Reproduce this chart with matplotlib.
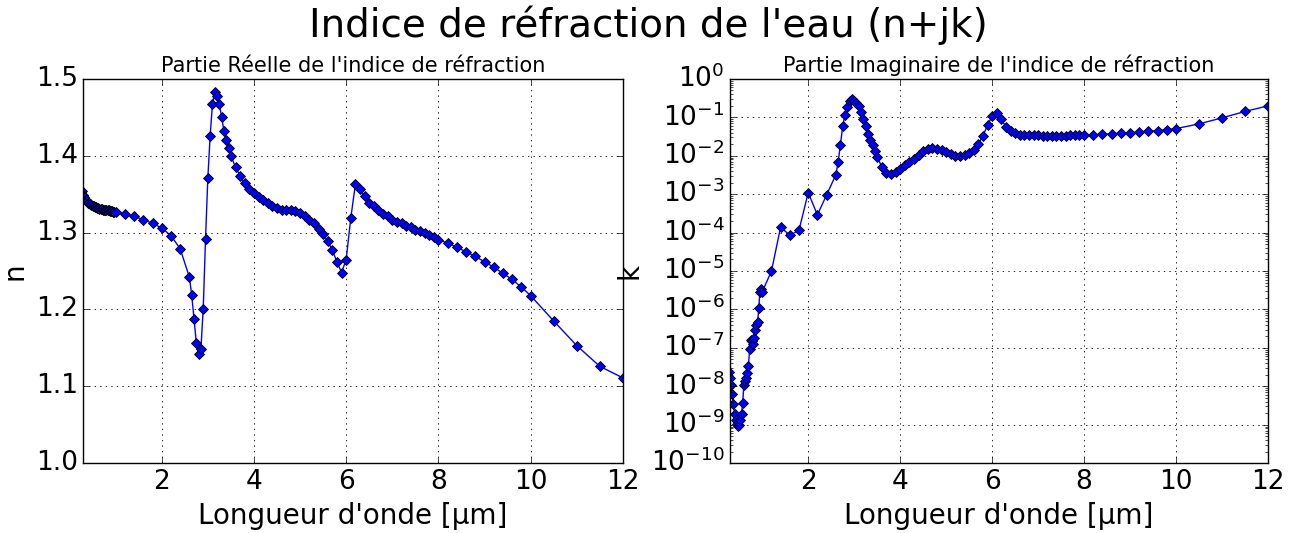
import matplotlib
matplotlib.use("Agg")
import matplotlib.pyplot as plt
from matplotlib.ticker import LogLocator, LogFormatterMathtext, MultipleLocator

plt.style.use("classic")
plt.rcParams["font.family"] = ["DejaVu Sans"]
plt.rcParams["figure.facecolor"] = "white"
plt.rcParams["savefig.facecolor"] = "white"

# Wavelength [um]
wavelength = [0.275, 0.300, 0.325, 0.350, 0.375, 0.400, 0.425, 0.450, 0.475, 0.500,
              0.525, 0.550, 0.575, 0.600, 0.625, 0.650, 0.675, 0.700, 0.725, 0.750,
              0.775, 0.800, 0.825, 0.850, 0.875, 0.900, 0.925, 0.950, 0.975, 1.000,
              1.2, 1.4, 1.6, 1.8, 2.0, 2.2, 2.4, 2.6, 2.65, 2.7, 2.75, 2.8, 2.85, 2.9,
              2.95, 3.0, 3.05, 3.1, 3.15, 3.2, 3.25, 3.3, 3.35, 3.4, 3.45, 3.5, 3.6,
              3.7, 3.8, 3.9, 4.0, 4.1, 4.2, 4.3, 4.4, 4.5, 4.6, 4.7, 4.8, 4.9, 5.0,
              5.1, 5.2, 5.3, 5.4, 5.5, 5.6, 5.7, 5.8, 5.9, 6.0, 6.1, 6.2, 6.3, 6.4,
              6.5, 6.6, 6.7, 6.8, 6.9, 7.0, 7.1, 7.2, 7.3, 7.4, 7.5, 7.6, 7.7, 7.8,
              7.9, 8.0, 8.2, 8.4, 8.6, 8.8, 9.0, 9.2, 9.4, 9.6, 9.8, 10.0, 10.5, 11.0,
              11.5, 12.0]

# Real part n
n_real = [1.354, 1.349, 1.346, 1.343, 1.341, 1.339, 1.338, 1.337, 1.336, 1.335,
          1.334, 1.333, 1.333, 1.332, 1.332, 1.331, 1.331, 1.331, 1.330, 1.330,
          1.330, 1.329, 1.329, 1.329, 1.328, 1.328, 1.328, 1.327, 1.327, 1.327,
          1.324, 1.321, 1.317, 1.312, 1.306, 1.296, 1.279, 1.242, 1.219, 1.188,
          1.157, 1.142, 1.149, 1.201, 1.292, 1.371, 1.426, 1.467, 1.483, 1.478,
          1.467, 1.450, 1.432, 1.420, 1.410, 1.400, 1.385, 1.374, 1.364, 1.357,
          1.351, 1.346, 1.342, 1.338, 1.334, 1.332, 1.330, 1.330, 1.330, 1.328,
          1.325, 1.322, 1.317, 1.312, 1.305, 1.298, 1.289, 1.277, 1.262, 1.248,
          1.265, 1.319, 1.363, 1.357, 1.347, 1.339, 1.334, 1.329, 1.324, 1.321,
          1.317, 1.314, 1.312, 1.309, 1.307, 1.304, 1.302, 1.299, 1.297, 1.294,
          1.291, 1.286, 1.281, 1.275, 1.269, 1.262, 1.255, 1.247, 1.239, 1.229,
          1.218, 1.185, 1.153, 1.126, 1.111]

# Imaginary part k
k_imag = [2.35e-8, 1.6e-8, 1.08e-8, 6.5e-9, 3.5e-9, 1.86e-9, 1.3e-9, 1.02e-9, 9.35e-10, 1.0e-9,
          1.32e-9, 1.96e-9, 3.6e-9, 1.09e-8, 1.39e-8, 1.64e-8, 2.23e-8, 3.35e-8, 9.15e-8, 1.56e-7,
          1.48e-7, 1.25e-7, 1.82e-7, 2.93e-7, 3.91e-7, 4.86e-7, 1.06e-6, 2.93e-6, 3.48e-6, 2.89e-6,
          9.89e-6, 1.38e-4, 8.55e-5, 1.15e-4, 1.1e-3, 2.89e-4, 9.56e-4, 3.17e-3, 6.7e-3, 1.9e-2,
          5.9e-2, 1.15e-1, 1.85e-1, 2.68e-1, 2.98e-1, 2.72e-1, 2.40e-1, 1.92e-1, 1.35e-1, 9.24e-2,
          6.10e-2, 3.68e-2, 2.61e-2, 1.95e-2, 1.32e-2, 9.4e-3, 5.15e-3, 3.6e-3, 3.4e-3, 3.8e-3,
          4.6e-3, 5.62e-3, 6.88e-3, 8.45e-3, 1.03e-2, 1.34e-2, 1.47e-2, 1.57e-2, 1.5e-2, 1.37e-2,
          1.24e-2, 1.11e-2, 1.01e-2, 9.8e-3, 1.03e-2, 1.16e-2, 1.42e-2, 2.03e-2, 3.3e-2, 6.22e-2,
          1.07e-1, 1.31e-1, 8.8e-2, 5.7e-2, 4.49e-2, 3.92e-2, 3.56e-2, 3.37e-2, 3.39e-2, 3.39e-2,
          3.38e-2, 3.35e-2, 3.36e-2, 3.35e-2, 3.36e-2, 3.36e-2, 3.36e-2, 3.37e-2, 3.39e-2, 3.48e-2,
          3.43e-2, 3.52e-2, 3.60e-2, 3.75e-2, 3.86e-2, 3.99e-2, 4.15e-2, 4.32e-2, 4.51e-2, 4.74e-2,
          5.08e-2, 6.74e-2, 9.68e-2, 1.42e-1, 1.99e-1]

suptitle = "Indice de réfraction de l'eau (n+jk)"
title_n = "Partie Réelle de l'indice de réfraction"
title_k = "Partie Imaginaire de l'indice de réfraction"
xlabel = "Longueur d'onde [µm]"

fig = plt.figure(figsize=(12.96, 5.33), dpi=100)
ax1 = fig.add_axes([0.0643, 0.131, 0.4163, 0.721])
ax2 = fig.add_axes([0.5633, 0.131, 0.4151, 0.721])

style = dict(color="b", marker="D", markersize=5.5, markerfacecolor="b",
             markeredgecolor="k", markeredgewidth=0.6, linewidth=1)

ax1.plot(wavelength, n_real, **style)
ax1.set_xlim(0.3, 12)
ax1.set_ylim(1.0, 1.5)
ax1.yaxis.set_major_locator(MultipleLocator(0.1))
ax1.xaxis.set_major_locator(MultipleLocator(2))
ax1.set_title(title_n, fontsize=15)
ax1.set_xlabel(xlabel, fontsize=20)
ax1.set_ylabel("n", fontsize=20)
ax1.grid(True, color="k", linestyle=":", linewidth=0.6)
ax1.tick_params(labelsize=19)

ax2.plot(wavelength, k_imag, **style)
ax2.set_yscale("log")
ax2.set_xlim(0.3, 12)
ax2.set_ylim(1e-10, 1.0)
ax2.xaxis.set_major_locator(MultipleLocator(2))
ax2.yaxis.set_major_locator(LogLocator(base=10, numticks=20))
ax2.yaxis.set_major_formatter(LogFormatterMathtext())
ax2.set_title(title_k, fontsize=15)
ax2.set_xlabel(xlabel, fontsize=20)
ax2.set_ylabel("k", fontsize=20)
ax2.grid(True, color="k", linestyle=":", linewidth=0.6)
ax2.tick_params(labelsize=19)

fig.suptitle(suptitle, fontsize=28, y=0.99)

fig.savefig("out.png", dpi=100)
